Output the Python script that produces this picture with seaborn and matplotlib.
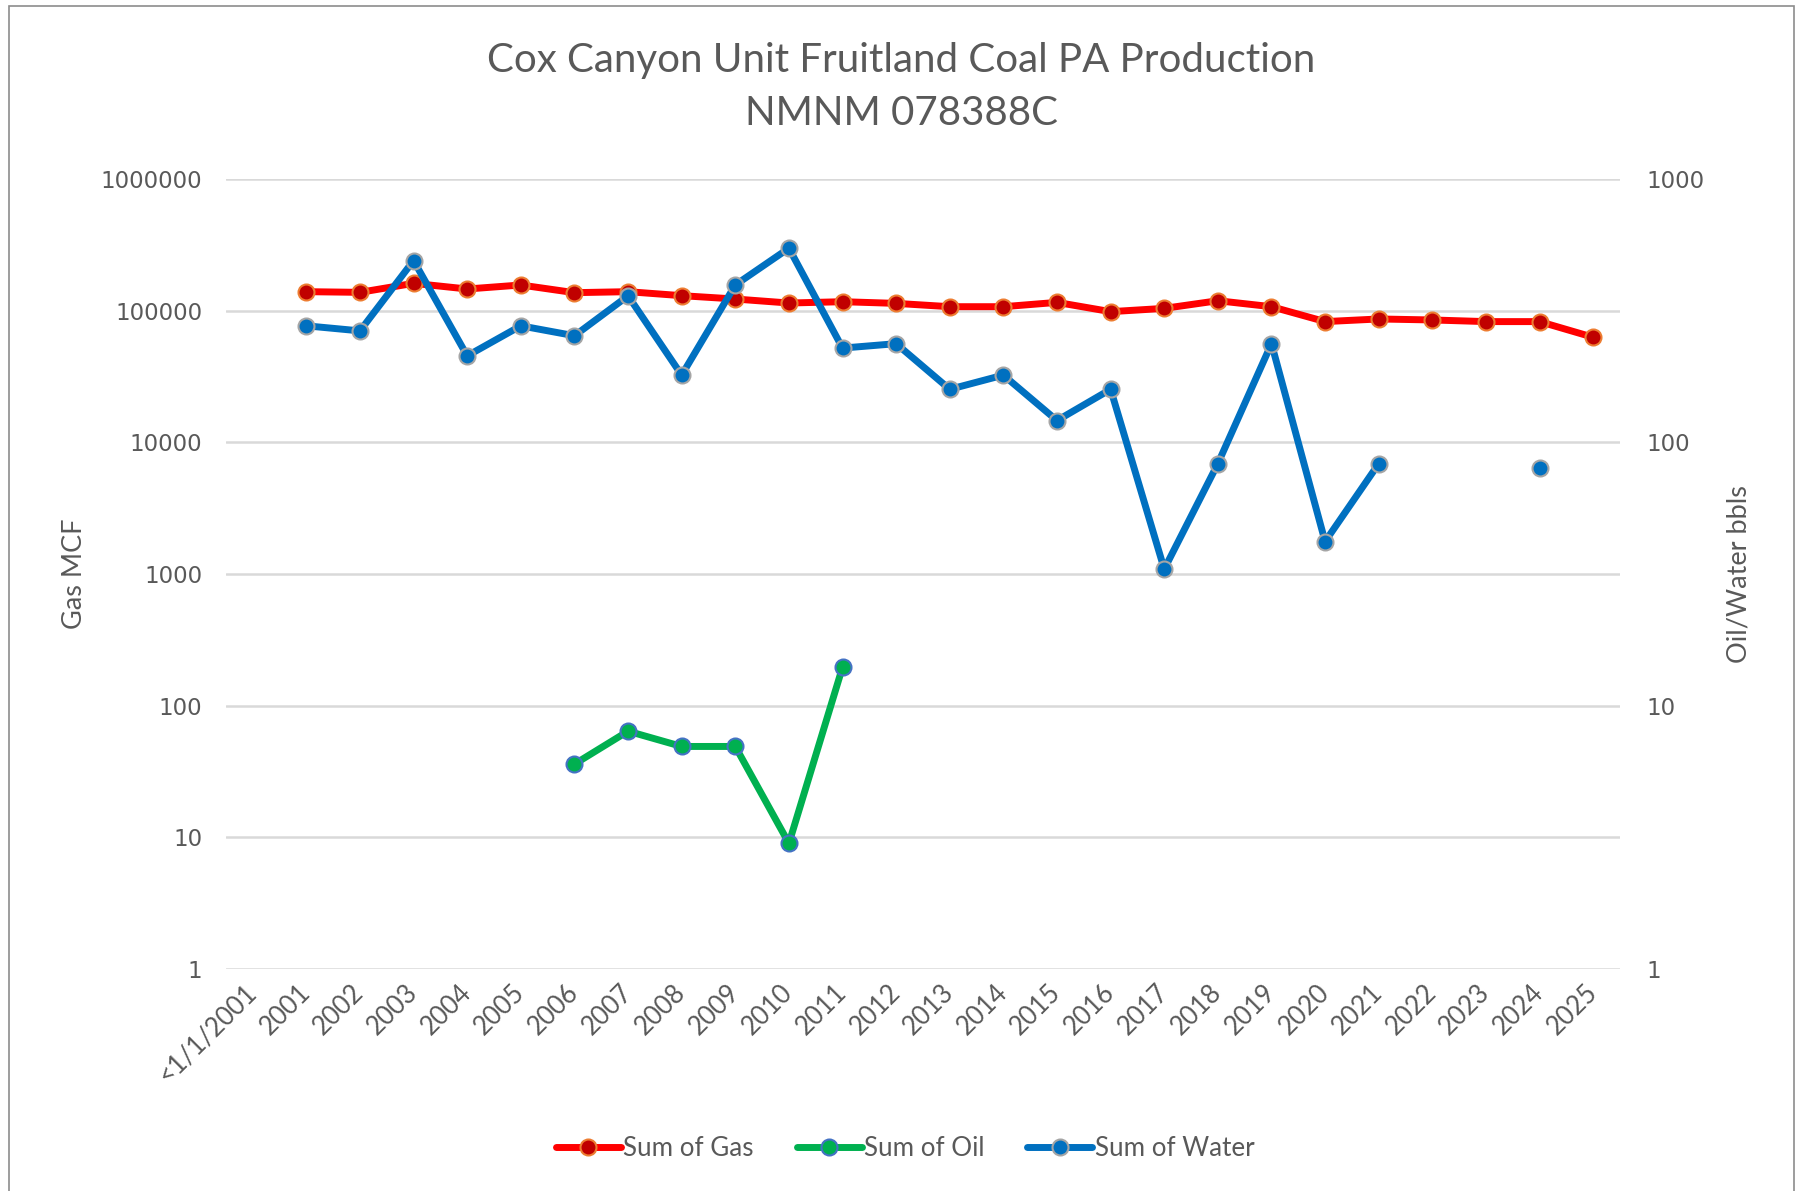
import numpy as np
import pandas as pd
import seaborn as sns
import matplotlib.pyplot as plt
from matplotlib.lines import Line2D
from matplotlib.patches import Rectangle
from matplotlib.ticker import NullLocator

sns.set_style("white")
plt.rcParams["font.family"] = ["Lato", "DejaVu Sans"]

labels = ["<1/1/2001"] + [str(y) for y in range(2001, 2026)]
nan = np.nan
gas = [nan, 139400, 137800, 161300, 146100, 156700, 137000, 139400, 130000, 122600, 114300,
       117000, 113600, 107200, 107200, 115600, 98300, 104100, 119000, 107200, 82600,
       86500, 85000, 82600, 82600, 62800]
oil = [nan] * 6 + [6, 8, 7, 7, 3, 14] + [nan] * 14
water = [nan, 277, 265, 490, 213, 277, 254, 360, 180, 396, 546,
         228, 237, 159, 180, 121, 159, 33, 83, 237, 42,
         83, nan, nan, 80, nan]

grey = "#595959"


def segs(vals):
    # split into runs so gaps (missing years) are not bridged
    d = pd.DataFrame({"x": np.arange(len(labels)), "v": vals})
    d["seg"] = d["v"].isna().cumsum()
    return d.dropna()


fig = plt.figure(figsize=(17.96, 11.91), dpi=100)
ax = fig.add_axes([0.1258, 0.1864, 0.7762, 0.6633])
ax2 = ax.twinx()

styles = {
    "gas": dict(color="#FF0000", lw=5, mfc="#C00000", mec="#ED7D31"),
    "oil": dict(color="#00B050", lw=5, mfc="#00B050", mec="#4472C4"),
    "water": dict(color="#0070C0", lw=5, mfc="#0070C0", mec="#A5A5A5"),
}

for name, vals, a in [("gas", gas, ax), ("oil", oil, ax2), ("water", water, ax2)]:
    s = styles[name]
    sns.lineplot(data=segs(vals), x="x", y="v", units="seg", estimator=None, ax=a,
                 color=s["color"], lw=s["lw"], marker="o", markersize=11.5,
                 markerfacecolor=s["mfc"], markeredgecolor=s["mec"], markeredgewidth=1.5)

ax.set_yscale("log")
ax2.set_yscale("log")
ax.set_ylim(1, 1e6)
ax2.set_ylim(1, 1e3)
ax.set_xlim(-0.5, len(labels) - 0.5)

ax.set_yticks([10 ** k for k in range(7)])
ax.set_yticklabels([str(10 ** k) for k in range(7)], family="DejaVu Sans", fontsize=16.5, color=grey)
ax2.set_yticks([10 ** k for k in range(4)])
ax2.set_yticklabels([str(10 ** k) for k in range(4)], family="DejaVu Sans", fontsize=16.5, color=grey)
for a in (ax, ax2):
    a.yaxis.set_minor_locator(NullLocator())
    for sp in a.spines.values():
        sp.set_visible(False)
ax.tick_params(axis="y", length=0, pad=17)
ax2.tick_params(axis="y", length=0, pad=19)

ax.set_xticks(np.arange(len(labels)))
ax.set_xticklabels(labels, rotation=45, ha="right", va="center", rotation_mode="anchor",
                   fontsize=18.5, color=grey)
ax.tick_params(axis="x", length=0, pad=14)

ax.grid(axis="y", color="#D9D9D9", lw=1.8)
ax.grid(axis="x", visible=False)
ax2.grid(False)
ax.set_axisbelow(True)

ax.set_xlabel("")
ax.set_ylabel("Gas MCF", fontsize=19.5, color=grey)
ax2.set_ylabel("Oil/Water bbls", fontsize=19.5, color=grey)
ax.yaxis.set_label_coords(-0.0995, 0.5)
ax2.yaxis.set_label_coords(1.0765, 0.5)

fig.suptitle("Cox Canyon Unit Fruitland Coal PA Production\nNMNM 078388C",
             x=0.502, y=0.927, va="center", fontsize=29, color=grey, linespacing=1.52)

handles = [Line2D([], [], color=styles[k]["color"], lw=5, marker="o", markersize=11.5,
                  markerfacecolor=styles[k]["mfc"], markeredgecolor=styles[k]["mec"],
                  markeredgewidth=1.5) for k in ("gas", "oil", "water")]
fig.legend(handles, ["Sum of Gas", "Sum of Oil", "Sum of Water"], loc="center",
           bbox_to_anchor=(0.504, 0.036), ncol=3, frameon=False, fontsize=18.7,
           handlelength=2.5, handletextpad=0.1, columnspacing=1.65, labelcolor=grey)

fig.patches.append(Rectangle((9 / 1796, -0.01), 1785 / 1796, 1.005, transform=fig.transFigure,
                             fill=False, edgecolor="#8C8C8C", lw=1.2))

fig.savefig("out.png", dpi=100)
